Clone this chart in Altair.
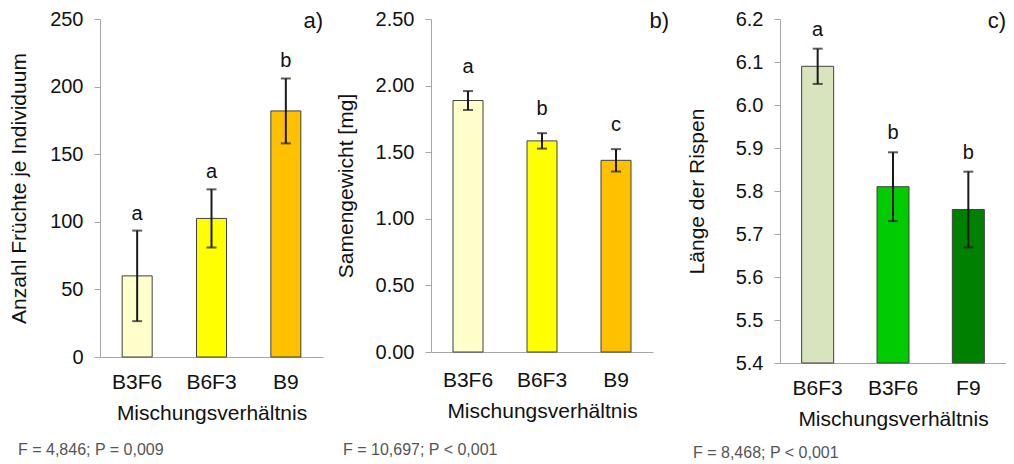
import altair as alt
import pandas as pd

FONT = "Liberation Sans"

# Panel a
a_cats = ["B3F6", "B6F3", "B9"]
a_mean = [60, 102.5, 182]
a_err = [33.5, 21.5, 24]
a_letters = ["a", "a", "b"]
a_colors = ["#FFFFCC", "#FFFF00", "#FFC000"]
a_ticks = [0, 50, 100, 150, 200, 250]

# Panel b
b_cats = ["B3F6", "B6F3", "B9"]
b_mean = [1.888, 1.585, 1.439]
b_err = [0.071, 0.058, 0.084]
b_letters = ["a", "b", "c"]
b_colors = ["#FFFFCC", "#FFFF00", "#FFC000"]
b_ticks = [0.0, 0.5, 1.0, 1.5, 2.0, 2.5]

# Panel c
c_cats = ["B6F3", "B3F6", "F9"]
c_mean = [6.09, 5.81, 5.757]
c_err = [0.041, 0.08, 0.088]
c_letters = ["a", "b", "b"]
c_colors = ["#D7E4BD", "#00CC00", "#008000"]
c_ticks = [5.4, 5.5, 5.6, 5.7, 5.8, 5.9, 6.0, 6.1, 6.2]

AXIS_GREY = "#A6A6A6"


def panel(cats, mean, err, letters, colors, ticks, fmt, ytitle, tag, note,
          w, h, bw, letter_dy, tag_dx, note_dx, note_dy, xlabpad, ytitle_x):
    df = pd.DataFrame({
        "cat": cats,
        "mean": mean,
        "lo": [m - e for m, e in zip(mean, err)],
        "hi": [m + e for m, e in zip(mean, err)],
        "letter": letters,
        "color": colors,
    })
    domain = [ticks[0], ticks[-1]]
    xenc = alt.X("cat:N", sort=cats,
                 scale=alt.Scale(paddingInner=0, paddingOuter=0),
                 axis=alt.Axis(title="Mischungsverhältnis", labelAngle=0,
                               ticks=False, tickSize=0, labelPadding=xlabpad,
                               titlePadding=10, domainColor=AXIS_GREY,
                               labelFontSize=21, titleFontSize=21))
    yscale = alt.Scale(domain=domain, zero=False, nice=False)
    base = alt.Chart(df).encode(x=xenc)
    bars = base.mark_bar(size=bw, stroke="#404040", strokeWidth=1).encode(
        y=alt.Y("mean:Q", scale=yscale,
                axis=alt.Axis(values=ticks, format=fmt, title=ytitle,
                              grid=False, domainColor=AXIS_GREY,
                              tickColor=AXIS_GREY, tickSize=6,
                              labelPadding=11, labelFontSize=20,
                              titleFontSize=21, titleX=ytitle_x,
                              titleBaseline="middle")),
        y2=alt.Y2(datum=domain[0]),
        color=alt.Color("color:N", scale=None),
    )
    rule = base.mark_rule(color="#1a1a1a", strokeWidth=2).encode(
        y=alt.Y("lo:Q", scale=yscale), y2="hi:Q")
    cap_lo = base.mark_tick(color="#1a1a1a", size=10, thickness=2).encode(
        y=alt.Y("lo:Q", scale=yscale))
    cap_hi = base.mark_tick(color="#1a1a1a", size=10, thickness=2).encode(
        y=alt.Y("hi:Q", scale=yscale))
    lett = base.mark_text(dy=letter_dy, fontSize=20, baseline="middle",
                          color="#111").encode(
        y=alt.Y("hi:Q", scale=yscale), text="letter:N")
    tagdf = pd.DataFrame({"t": [tag]})
    tagm = alt.Chart(tagdf).mark_text(align="right", baseline="middle",
                                      fontSize=22, color="#111").encode(
        x=alt.value(w + tag_dx), y=alt.value(2), text="t:N")
    notedf = pd.DataFrame({"t": [note]})
    notem = alt.Chart(notedf).mark_text(align="left", baseline="middle",
                                        fontSize=16, color="#555").encode(
        x=alt.value(note_dx), y=alt.value(h + note_dy), text="t:N")
    return alt.layer(bars, rule, cap_lo, cap_hi, lett, tagm, notem).properties(
        width=w, height=h)


pa = panel(a_cats, a_mean, a_err, a_letters, a_colors, a_ticks, "d",
           "Anzahl Früchte je Individuum", "a)", "F = 4,846; P = 0,009",
           223, 338, 30, -17, 0, -82, 93, 14, -81)
pb = panel(b_cats, b_mean, b_err, b_letters, b_colors, b_ticks, ".2f",
           "Samengewicht [mg]", "b)", "F = 10,697; P < 0,001",
           222, 333, 30, -24, 16, -88, 98, 17, -85)
pc = panel(c_cats, c_mean, c_err, c_letters, c_colors, c_ticks, ".1f",
           "Länge der Rispen", "c)", "F = 8,468; P < 0,001",
           226, 344, 32, -19, 0, -87, 90, 14, -83)

spacer = alt.Chart(pd.DataFrame({"s": [0]})).mark_point(opacity=0).encode(
    x=alt.value(0), y=alt.value(0)).properties(width=19, height=10)

chart = alt.hconcat(
    pa, pb, alt.hconcat(spacer, pc, spacing=0, bounds="flush"),
    spacing=108, bounds="flush"
).properties(
    padding={"top": 1, "left": 0, "right": 0, "bottom": 0}
).configure_view(strokeWidth=0).configure_axis(
    labelFont=FONT, titleFont=FONT, labelColor="#111", titleColor="#111",
    titleFontWeight="normal"
).configure_text(font=FONT)

chart.save("out.html", embed_options={"renderer": "svg", "actions": False})
